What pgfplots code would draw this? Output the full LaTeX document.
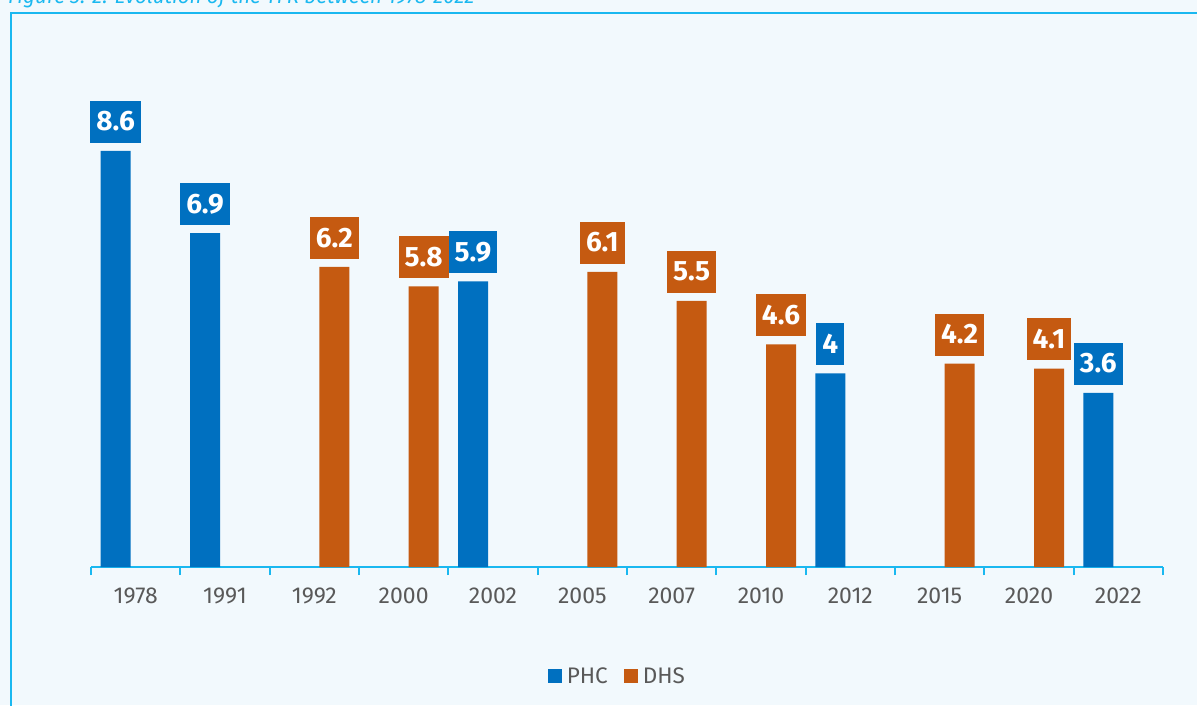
\documentclass[border=0pt]{standalone}
\usepackage{fontspec}
\setmainfont{Fira Sans}
\usepackage{pgfplots}
\pgfplotsset{compat=1.18}
\definecolor{phc}{HTML}{0070C0}
\definecolor{dhs}{HTML}{C55A11}
\definecolor{bg}{HTML}{F2F9FD}
\definecolor{frm}{HTML}{1AB8F0}
\definecolor{tck}{HTML}{595959}
\begin{document}
\begin{tikzpicture}[x=1pt,y=1pt]
\useasboundingbox (0,0) rectangle (1197,-705);
\fill[bg] (0,0) rectangle (1197,-705);
\draw[frm, line width=2pt] (11,-720) -- (11,-12.5) -- (1210,-12.5);
\node[anchor=base west, text=frm, font=\itshape\fontsize{20.6}{24}\selectfont, inner sep=0] at (8,-3.5) {Figure 3. 2: Evolution of the TFR between 1978-2022};
\begin{axis}[
 at={(91pt,-567pt)}, anchor=south west, scale only axis, width=1072pt, height=484pt,
 xmin=-0.5, xmax=11.5, ymin=0, ymax=10, clip=false,
 ybar=10pt, bar width=30pt,
 axis x line*=bottom, axis y line=none,
 axis line style={frm, line width=2pt},
 xtick={0,...,11},
 xticklabels={1978,1991,1992,2000,2002,2005,2007,2010,2012,2015,2020,2022},
 major tick length=0pt,
 minor xtick={-0.5,0.5,...,11.5},
 minor tick length=8pt, tick align=outside,
 minor tick style={frm, line width=2pt},
 xticklabel style={text=tck, font=\fontsize{23}{26}\selectfont, yshift=-17pt},
 /pgf/number format/assume math mode=true,
 nodes near coords,
 every node near coord/.append style={anchor=south, yshift=8pt, text=white, font=\bfseries\fontsize{28}{30}\selectfont, minimum height=42pt, inner xsep=6pt, inner ysep=0pt},
 legend style={at={(0.491,-0.225)}, anchor=center, draw=none, fill=none, legend columns=2, text=tck, font=\fontsize{22.5}{26}\selectfont, /tikz/every even column/.append style={column sep=14pt}},
]
\addplot[fill=phc, draw=none, every node near coord/.append style={fill=phc}, legend image code/.code={\fill[phc] (0pt,-7pt) rectangle (14pt,7pt); \path (17pt,0pt);}] coordinates {(0,8.6) (1,6.9) (4,5.9) (8,4) (11,3.6)};
\addplot[fill=dhs, draw=none, every node near coord/.append style={fill=dhs}, legend image code/.code={\fill[dhs] (0pt,-7pt) rectangle (14pt,7pt); \path (17pt,0pt);}] coordinates {(2,6.2) (3,5.8) (5,6.1) (6,5.5) (7,4.6) (9,4.2) (10,4.1)};
\legend{PHC,DHS}
\end{axis}
\end{tikzpicture}
\end{document}
